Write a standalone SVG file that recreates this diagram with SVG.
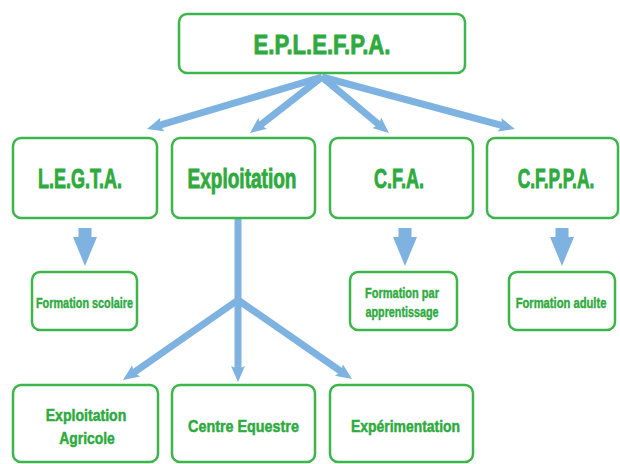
<svg xmlns="http://www.w3.org/2000/svg" width="620" height="464" viewBox="0 0 620 464">
<style>
.box{fill:#ffffff;stroke:#3cb54a;stroke-width:2.5}
.t{font-family:"Liberation Sans",Arial,sans-serif;font-weight:bold;fill:#2eaa3e;stroke:#2eaa3e;text-anchor:middle}
.big{font-size:28px;stroke-width:0.9}
.mid{font-size:27px;stroke-width:0.9}
.sm{font-size:14px;stroke-width:0.4}
.bt{font-size:17px;stroke-width:0.5}
.con{stroke:#7eb3e1;stroke-width:7;fill:none;stroke-linecap:butt}
.blk{fill:#7eb3e1}
</style>
<defs>
<marker id="ah" markerUnits="userSpaceOnUse" viewBox="0 0 16 16" markerWidth="16" markerHeight="16" refX="6" refY="8" orient="auto">
<path d="M0,1 L16,8 L0,15 L3,8 z" fill="#7eb3e1"/>
</marker>
</defs>
<rect width="620" height="464" fill="#ffffff"/>
<g id="connectors">
<line class="con" x1="322" y1="77" x2="156.6" y2="126.2" marker-end="url(#ah)"/>
<line class="con" x1="322" y1="77" x2="257.9" y2="126.9" marker-end="url(#ah)"/>
<line class="con" x1="322" y1="77" x2="381.3" y2="126.6" marker-end="url(#ah)"/>
<line class="con" x1="322" y1="77" x2="505.3" y2="126.4" marker-end="url(#ah)"/>
<line class="con" x1="238" y1="219" x2="238" y2="300"/>
<line class="con" x1="238" y1="300" x2="131.2" y2="374.3" marker-end="url(#ah)"/>
<line class="con" x1="238" y1="298" x2="238" y2="372" marker-end="url(#ah)"/>
<line class="con" x1="238" y1="300" x2="343.8" y2="373.3" marker-end="url(#ah)"/>
<polygon class="blk" points="78.5,228 91.5,228 91.5,237 97,237 85,266 73,237 78.5,237"/>
<polygon class="blk" points="398.5,228 411.5,228 411.5,237 417,237 405,266 393,237 398.5,237"/>
<polygon class="blk" points="555.5,228 568.5,228 568.5,237 574,237 562,266 550,237 555.5,237"/>
</g>
<g id="eplefpa">
<rect class="box" x="179" y="14" width="286" height="59" rx="8"/>
<text class="t big" transform="translate(322,54) scale(0.79,1)">E.P.L.E.F.P.A.</text>
</g>
<g id="legta">
<rect class="box" x="13" y="138" width="144" height="80" rx="8"/>
<text class="t mid" transform="translate(80,188) scale(0.667,1)">L.E.G.T.A.</text>
</g>
<g id="exploitation">
<rect class="box" x="172" y="138" width="143" height="80" rx="8"/>
<text class="t mid" transform="translate(242,188) scale(0.705,1)">Exploitation</text>
</g>
<g id="cfa">
<rect class="box" x="330" y="138" width="143" height="80" rx="8"/>
<text class="t mid" transform="translate(399,188) scale(0.667,1)">C.F.A.</text>
</g>
<g id="cfppa">
<rect class="box" x="487" y="138" width="131" height="80" rx="8"/>
<text class="t mid" transform="translate(556,188) scale(0.643,1)">C.F.P.P.A.</text>
</g>
<g id="formation-scolaire">
<rect class="box" x="32" y="272" width="105" height="58" rx="8"/>
<text class="t sm" transform="translate(84.5,308) scale(0.775,1)">Formation scolaire</text>
</g>
<g id="formation-apprentissage">
<rect class="box" x="350" y="272" width="107" height="58" rx="8"/>
<text class="t sm" transform="translate(402,298) scale(0.786,1)">Formation par</text>
<text class="t sm" transform="translate(402,317) scale(0.77,1)">apprentissage</text>
</g>
<g id="formation-adulte">
<rect class="box" x="509" y="272" width="106" height="58" rx="8"/>
<text class="t sm" transform="translate(561,308) scale(0.8,1)">Formation adulte</text>
</g>
<g id="exploitation-agricole">
<rect class="box" x="13" y="385" width="145" height="77" rx="8"/>
<text class="t bt" transform="translate(86,421) scale(0.83,1)">Exploitation</text>
<text class="t bt" transform="translate(87,444) scale(0.82,1)">Agricole</text>
</g>
<g id="centre-equestre">
<rect class="box" x="172" y="385" width="143" height="77" rx="8"/>
<text class="t bt" transform="translate(243.5,432) scale(0.845,1)">Centre Equestre</text>
</g>
<g id="experimentation">
<rect class="box" x="330" y="385" width="143" height="77" rx="8"/>
<text class="t bt" transform="translate(405.5,432) scale(0.82,1)">Expérimentation</text>
</g>
</svg>
